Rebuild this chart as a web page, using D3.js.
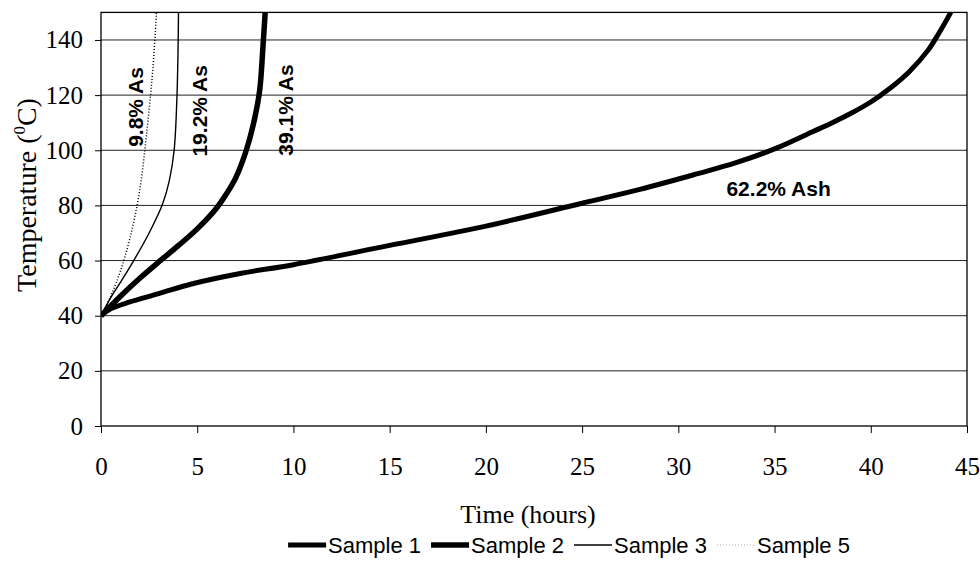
<!DOCTYPE html>
<html>
<head>
<meta charset="utf-8">
<script src="https://d3js.org/d3.v7.min.js"></script>
<style>
  body { margin: 0; background: #fff; }
  svg { display: block; }
  .tick text { font-family: "Liberation Serif", "Times New Roman", serif; font-size: 25px; fill: #000; }
  .grid line { stroke: #222; stroke-width: 1; }
  .curve { fill: none; stroke: #000; }
  .note { font-family: "Liberation Sans", Arial, sans-serif; font-weight: bold; font-size: 21px; }
  .legend text { font-family: "Liberation Sans", Arial, sans-serif; font-size: 22px; }
</style>
</head>
<body>
<svg id="chart" width="980" height="569"></svg>
<script>
// data: [time (h), temperature (C)]
var sample1 = [[0,40],[0.5,42.5],[1.5,45],[3,48],[4.7,51.5],[7.3,55.4],[10,58.5],[15,65.5],[20,72.5],
  [25,80.8],[28,85.8],[31,91.5],[33,95.5],[35,100.5],[37,106.8],[38,110],[39,113.5],[40,117.5],
  [41,122.5],[42,128.5],[43,136.5],[43.5,142],[44,148],[44.3,152]];
var sample2 = [[0,40],[1,47],[2,53.5],[3,59.5],[4,65.3],[5,71.5],[6,79],[6.5,84],[7,90],
  [7.55,100],[8,112],[8.25,122],[8.42,138],[8.55,152]];
var sample3 = [[0,40],[0.5,46.5],[1,52],[1.7,60],[2.5,70],[3.2,80.5],[3.55,89],[3.8,100],[3.94,118],[4.0,135],[4.03,152]];
var sample5 = [[0,40],[0.5,47],[1,56],[1.5,68],[2,85],[2.4,108],[2.7,130],[2.9,152]];

var series = [
  { name: "Sample 1", values: sample1, width: 5, color: "#000", dash: null },
  { name: "Sample 2", values: sample2, width: 5.5, color: "#000", dash: null },
  { name: "Sample 3", values: sample3, width: 1.4, color: "#000", dash: null },
  { name: "Sample 5", values: sample5, width: 1.5, color: "#c8c8c8", dash: "1,2" }
];
var notes = [
  { text: "9.8% As", t: 2.18, v: 115.7, rotate: true },
  { text: "19.2% As", t: 5.5, v: 114.3, rotate: true },
  { text: "39.1% As", t: 9.98, v: 114.6, rotate: true },
  { text: "62.2% Ash", t: 32.5, v: 83.4, rotate: false }
];
var xTicks = [0,5,10,15,20,25,30,35,40,45];
var yTicks = [0,20,40,60,80,100,120,140];

var mLeft = 101, mRight = 967, mTop = 12.4, mBottom = 426;
var svg = d3.select("#chart");

var x = d3.scaleLinear().domain([0,45]).range([mLeft, mRight]);
var y = d3.scaleLinear().domain([0,150]).range([mBottom, mTop]);

// gridlines
svg.append("g").attr("class", "grid")
  .selectAll("line").data(yTicks.filter(function(d){ return d > 0; }))
  .join("line")
  .attr("x1", mLeft).attr("x2", mRight)
  .attr("y1", function(d){ return y(d); }).attr("y2", function(d){ return y(d); });

// frame
svg.append("rect")
  .attr("x", mLeft).attr("y", mTop)
  .attr("width", mRight - mLeft).attr("height", mBottom - mTop)
  .attr("fill", "none").attr("stroke", "#000").attr("stroke-width", 1.3);

// axes
var yAxis = d3.axisLeft(y).tickValues(yTicks).tickSize(6).tickPadding(12);
var xAxis = d3.axisBottom(x).tickValues(xTicks).tickSize(7).tickPadding(24);

svg.append("g").attr("transform", "translate(" + mLeft + ",0)").call(yAxis)
  .call(function(g){ g.select(".domain").remove(); });
svg.append("g").attr("transform", "translate(0," + mBottom + ")").call(xAxis)
  .call(function(g){ g.select(".domain").remove(); });
svg.selectAll(".tick line").attr("stroke", "#000").attr("stroke-width", 1);

// clip curves to plot area
svg.append("clipPath").attr("id", "plotclip")
  .append("rect").attr("x", mLeft).attr("y", mTop)
  .attr("width", mRight - mLeft).attr("height", mBottom - mTop);

var line = d3.line()
  .x(function(d){ return x(d[0]); })
  .y(function(d){ return y(d[1]); })
  .curve(d3.curveCatmullRom.alpha(0.5));

svg.append("g").attr("clip-path", "url(#plotclip)")
  .selectAll("path").data(series.slice().reverse())
  .join("path")
  .attr("class", "curve")
  .attr("d", function(d){ return line(d.values); })
  .attr("stroke", function(d){ return d.color; })
  .attr("stroke-width", function(d){ return d.width; })
  .attr("stroke-dasharray", function(d){ return d.dash; });

// curve annotations
notes.forEach(function(n) {
  var t = svg.append("text").attr("class", "note").text(n.text);
  if (n.rotate) {
    t.attr("text-anchor", "middle")
     .attr("transform", "translate(" + x(n.t) + "," + y(n.v) + ") rotate(-90)");
  } else {
    t.attr("x", x(n.t)).attr("y", y(n.v));
  }
});

// axis titles
svg.append("text")
  .attr("x", (mLeft + mRight) / 2 - 6).attr("y", 523)
  .attr("text-anchor", "middle")
  .style("font-family", "'Liberation Serif', 'Times New Roman', serif")
  .style("font-size", "26px")
  .text("Time (hours)");

var yt = svg.append("text")
  .attr("text-anchor", "middle")
  .attr("transform", "translate(36,195) rotate(-90)")
  .style("font-family", "'Liberation Serif', 'Times New Roman', serif")
  .style("font-size", "28px");
yt.append("tspan").text("Temperature (");
yt.append("tspan").attr("dy", -11).style("font-size", "17px").text("0");
yt.append("tspan").attr("dy", 11).text("C)");

// legend, centred under the plot
var legend = svg.append("g").attr("class", "legend");
var lx = 0, ly = 553;
series.forEach(function(s) {
  legend.append("line")
    .attr("x1", lx).attr("x2", lx + 38)
    .attr("y1", ly - 8).attr("y2", ly - 8)
    .attr("stroke", s.color).attr("stroke-width", s.width)
    .attr("stroke-dasharray", s.dash);
  var txt = legend.append("text").attr("x", lx + 40).attr("y", ly).text(s.name);
  lx = lx + 40 + txt.node().getComputedTextLength() + 10;
});
legend.attr("transform", "translate(" + (569 - (lx - 10) / 2) + ",0)");
</script>
</body>
</html>
